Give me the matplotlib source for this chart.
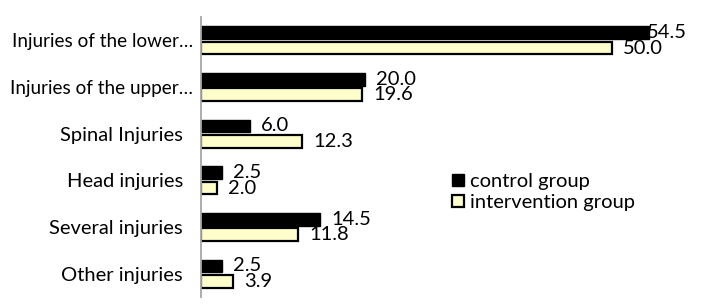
import matplotlib
matplotlib.use("Agg")
import matplotlib.pyplot as plt
import matplotlib.transforms as mtransforms
import numpy as np

categories = ["Injuries of the lower…", "Injuries of the upper…", "Spinal Injuries",
              "Head injuries", "Several injuries", "Other injuries"]
control = [54.5, 20.0, 6.0, 2.5, 14.5, 2.5]
intervention = [50.0, 19.6, 12.3, 2.0, 11.8, 3.9]
series_names = ["control group", "intervention group"]

plt.rcParams['font.family'] = ['Lato', 'DejaVu Sans']
FS = 14.5

fig = plt.figure(figsize=(7.02, 3.08), dpi=100)
W, H = 702, 308
ax = fig.add_axes([201 / W, 1 - 297 / H, (687 - 201) / W, (297 - 17) / H])

y = np.arange(len(categories))
h = 0.27
off = 0.165
b1 = ax.barh(y - off, control, height=h, color="black", edgecolor="black", linewidth=1.0,
             label=series_names[0])
b2 = ax.barh(y + off, intervention, height=h, color="#FFFFCC", edgecolor="black", linewidth=1.6,
             label=series_names[1])

xmax = 59.1
ax.set_xlim(0, xmax)
ax.set_ylim(len(categories) - 0.5, -0.5)

fig.canvas.draw()
renderer = fig.canvas.get_renderer()
pad = mtransforms.ScaledTranslation(11 / 100, 0, fig.dpi_scale_trans)
for bars, vals in ((b1, control), (b2, intervention)):
    for rect, v in zip(bars, vals):
        yc = rect.get_y() + rect.get_height() / 2
        t = ax.text(v, yc, f"{v:.1f}", ha="left", va="center", fontsize=FS,
                    transform=ax.transData + pad)
        bb = t.get_window_extent(renderer)
        axbb = ax.get_window_extent(renderer)
        if bb.x1 > axbb.x1:
            t.set_transform(ax.transData)
            t.set_position((xmax, yc))
            t.set_ha("right")

ax.set_yticks(y)
ax.set_yticklabels(categories, fontsize=FS)
ax.tick_params(axis="y", length=0, pad=13)
ax.set_xticks([])
for lab in ax.get_yticklabels():
    if lab.get_text().endswith("…"):
        lab.set_fontsize(13.6)
        lab.set_transform(lab.get_transform() + mtransforms.ScaledTranslation(10 / 100, 0, fig.dpi_scale_trans))

for s in ["top", "right", "bottom"]:
    ax.spines[s].set_visible(False)
ax.spines["left"].set_color("#A6A6A6")
ax.spines["left"].set_linewidth(1.3)

leg = ax.legend(loc="upper left", bbox_to_anchor=((452 - 201) / (687 - 201), 1 - (173 - 17) / 280),
                frameon=False, fontsize=FS, handlelength=0.6, handleheight=0.6,
                handletextpad=0.3, labelspacing=0.2, borderpad=0, borderaxespad=0)

fig.savefig("out.png", dpi=100)
